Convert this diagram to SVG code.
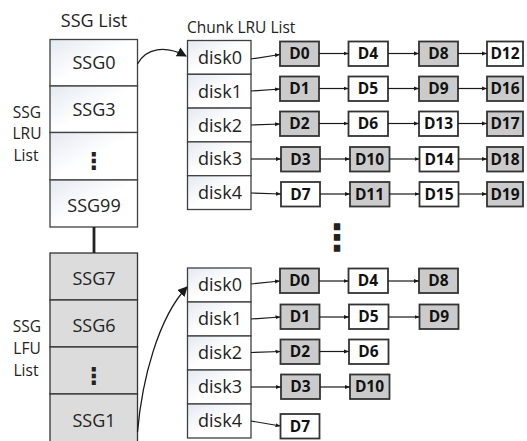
<svg xmlns="http://www.w3.org/2000/svg" width="527" height="441" viewBox="0 0 527 441">
<defs>
<linearGradient id="cellg" x1="0" y1="0" x2="1" y2="1">
<stop offset="0" stop-color="#e4e9f1"/>
<stop offset="0.5" stop-color="#ffffff"/>
<stop offset="1" stop-color="#ffffff"/>
</linearGradient>
<marker id="ah" viewBox="0 0 10 10" refX="10" refY="5" markerWidth="5" markerHeight="5" orient="auto" markerUnits="userSpaceOnUse">
<path d="M0,1 L10,5 L0,9 z" fill="#1a1a1a"/>
</marker>
<marker id="big" viewBox="0 0 10 10" refX="9" refY="5" markerWidth="10" markerHeight="10" orient="auto" markerUnits="userSpaceOnUse">
<path d="M0,0 L10,5 L0,10 z" fill="#1a1a1a"/>
</marker>
<style>
text{font-family:"Open Sans","Liberation Sans",sans-serif;fill:#222;}
.t{font-size:18px;text-anchor:middle;}
.lbl{font-size:15.5px;text-anchor:middle;}
.ssg{font-size:18px;text-anchor:middle;}
.dk{font-size:18px;text-anchor:middle;}
.dd{font-size:15.5px;font-weight:bold;text-anchor:middle;fill:#111;}
.dots{font-family:"DejaVu Sans",sans-serif;font-weight:bold;text-anchor:middle;fill:#222;}
.lru{fill:url(#cellg);stroke:#404040;stroke-width:1.3;}
.lfu{fill:#dcdcdc;stroke:#333;stroke-width:1.3;}
.dc{fill:url(#cellg);stroke:#404040;stroke-width:1.3;}
.w{fill:#ffffff;stroke:#333;stroke-width:1.8;}
.g{fill:#cbcbcb;stroke:#333;stroke-width:1.8;}
.a{fill:none;stroke:#1a1a1a;stroke-width:1.2;marker-end:url(#ah);}
.c{fill:none;stroke:#1a1a1a;stroke-width:1.3;marker-end:url(#big);}
</style>
</defs>

<g id="titles">
<text class="t" x="94" y="26.5">SSG List</text>
<text x="187" y="33" style="font-size:15.5px">Chunk LRU List</text>
</g>

<g id="lru-label">
<text class="lbl" x="27" y="118">SSG</text>
<text class="lbl" x="27" y="139">LRU</text>
<text class="lbl" x="26" y="161">List</text>
</g>
<g id="lfu-label">
<text class="lbl" x="27" y="332">SSG</text>
<text class="lbl" x="27" y="354">LFU</text>
<text class="lbl" x="26" y="376">List</text>
</g>

<g id="ssg-lru-list">
<g id="ssg0"><rect class="lru" x="50" y="39.5" width="87.5" height="46.5"/><text class="ssg" x="94" y="69">SSG0</text></g>
<g id="ssg3"><rect class="lru" x="50" y="86" width="87.5" height="46.5"/><text class="ssg" x="94" y="116">SSG3</text></g>
<g id="ssg-lru-more"><rect class="lru" x="50" y="132.5" width="87.5" height="47.5"/><text class="dots" x="94" y="169" style="font-size:23px">⋮</text></g>
<g id="ssg99"><rect class="lru" x="50" y="180" width="87.5" height="47"/><text class="ssg" x="94" y="212">SSG99</text></g>
</g>

<g id="ssg-lfu-list">
<g id="ssg7"><rect class="lfu" x="50" y="253" width="87.5" height="47"/><text class="ssg" x="94" y="285">SSG7</text></g>
<g id="ssg6"><rect class="lfu" x="50" y="300" width="87.5" height="47"/><text class="ssg" x="94" y="332">SSG6</text></g>
<g id="ssg-lfu-more"><rect class="lfu" x="50" y="347" width="87.5" height="47"/><text class="dots" x="94" y="384" style="font-size:23px">⋮</text></g>
<g id="ssg1"><rect class="lfu" x="50" y="394" width="87.5" height="50"/><text class="ssg" x="94" y="427">SSG1</text></g>
</g>

<g id="disks-top">
<g id="t-disk0"><rect class="dc" x="187.5" y="40.5" width="63.5" height="33.8"/><text class="dk" x="220" y="63.5">disk0</text></g>
<g id="t-disk1"><rect class="dc" x="187.5" y="74.3" width="63.5" height="33.8"/><text class="dk" x="220" y="97.5">disk1</text></g>
<g id="t-disk2"><rect class="dc" x="187.5" y="108.1" width="63.5" height="33.8"/><text class="dk" x="220" y="131.5">disk2</text></g>
<g id="t-disk3"><rect class="dc" x="187.5" y="141.9" width="63.5" height="33.8"/><text class="dk" x="220" y="165">disk3</text></g>
<g id="t-disk4"><rect class="dc" x="187.5" y="175.7" width="63.5" height="33.8"/><text class="dk" x="220" y="199">disk4</text></g>
</g>

<g id="chunks-top">
<g id="t-D0"><rect class="g" x="280" y="41.5" width="39" height="24.5"/><text class="dd" x="299.5" y="59">D0</text></g>
<g id="t-D4"><rect class="w" x="348.5" y="41.5" width="39.5" height="24.5"/><text class="dd" x="368" y="59">D4</text></g>
<g id="t-D8"><rect class="g" x="419" y="41.5" width="39" height="24.5"/><text class="dd" x="438.5" y="59">D8</text></g>
<g id="t-D12"><rect class="w" x="487" y="41.5" width="36" height="24.5"/><text class="dd" x="505" y="59">D12</text></g>

<g id="t-D1"><rect class="g" x="280" y="76.5" width="39" height="24.5"/><text class="dd" x="299.5" y="94">D1</text></g>
<g id="t-D5"><rect class="w" x="348.5" y="76.5" width="39.5" height="24.5"/><text class="dd" x="368" y="94">D5</text></g>
<g id="t-D9"><rect class="g" x="419" y="76.5" width="39" height="24.5"/><text class="dd" x="438.5" y="94">D9</text></g>
<g id="t-D16"><rect class="g" x="487" y="76.5" width="36" height="24.5"/><text class="dd" x="505" y="94">D16</text></g>

<g id="t-D2"><rect class="g" x="280" y="111.5" width="39" height="24.5"/><text class="dd" x="299.5" y="129">D2</text></g>
<g id="t-D6"><rect class="w" x="348.5" y="111.5" width="39.5" height="24.5"/><text class="dd" x="368" y="129">D6</text></g>
<g id="t-D13"><rect class="w" x="419" y="111.5" width="39" height="24.5"/><text class="dd" x="438.5" y="129">D13</text></g>
<g id="t-D17"><rect class="g" x="487" y="111.5" width="36" height="24.5"/><text class="dd" x="505" y="129">D17</text></g>

<g id="t-D3"><rect class="g" x="281" y="147" width="39" height="24.5"/><text class="dd" x="300.5" y="164.5">D3</text></g>
<g id="t-D10"><rect class="g" x="350" y="147" width="39.5" height="24.5"/><text class="dd" x="369.5" y="164.5">D10</text></g>
<g id="t-D14"><rect class="w" x="419.5" y="147" width="39" height="24.5"/><text class="dd" x="439" y="164.5">D14</text></g>
<g id="t-D18"><rect class="g" x="487" y="147" width="36" height="24.5"/><text class="dd" x="505" y="164.5">D18</text></g>

<g id="t-D7"><rect class="w" x="281" y="182" width="39" height="24.5"/><text class="dd" x="300.5" y="199.5">D7</text></g>
<g id="t-D11"><rect class="g" x="350" y="182" width="39.5" height="24.5"/><text class="dd" x="369.5" y="199.5">D11</text></g>
<g id="t-D15"><rect class="w" x="419.5" y="182" width="39" height="24.5"/><text class="dd" x="439" y="199.5">D15</text></g>
<g id="t-D19"><rect class="g" x="487" y="182" width="36" height="24.5"/><text class="dd" x="505" y="199.5">D19</text></g>
</g>

<g id="more-rows"><text class="dots" x="337" y="250" style="font-size:36px">⋮</text></g>

<g id="disks-bottom">
<g id="b-disk0"><rect class="dc" x="187.5" y="268" width="63.5" height="34"/><text class="dk" x="220" y="291">disk0</text></g>
<g id="b-disk1"><rect class="dc" x="187.5" y="302" width="63.5" height="34"/><text class="dk" x="220" y="325">disk1</text></g>
<g id="b-disk2"><rect class="dc" x="187.5" y="336" width="63.5" height="34"/><text class="dk" x="220" y="359">disk2</text></g>
<g id="b-disk3"><rect class="dc" x="187.5" y="370" width="63.5" height="34"/><text class="dk" x="220" y="393">disk3</text></g>
<g id="b-disk4"><rect class="dc" x="187.5" y="404" width="63.5" height="34"/><text class="dk" x="220" y="427">disk4</text></g>
</g>

<g id="chunks-bottom">
<g id="b-D0"><rect class="g" x="280" y="268.5" width="39" height="24.5"/><text class="dd" x="299.5" y="286">D0</text></g>
<g id="b-D4"><rect class="w" x="348.5" y="268.5" width="39.5" height="24.5"/><text class="dd" x="368" y="286">D4</text></g>
<g id="b-D8"><rect class="g" x="419" y="268.5" width="39" height="24.5"/><text class="dd" x="438.5" y="286">D8</text></g>

<g id="b-D1"><rect class="g" x="280.5" y="304.5" width="39" height="24.5"/><text class="dd" x="300" y="322">D1</text></g>
<g id="b-D5"><rect class="w" x="349" y="304.5" width="39.5" height="24.5"/><text class="dd" x="368.5" y="322">D5</text></g>
<g id="b-D9"><rect class="g" x="419.5" y="304.5" width="39" height="24.5"/><text class="dd" x="439" y="322">D9</text></g>

<g id="b-D2"><rect class="g" x="280.5" y="339.5" width="39" height="24.5"/><text class="dd" x="300" y="357">D2</text></g>
<g id="b-D6"><rect class="w" x="349" y="339.5" width="39.5" height="24.5"/><text class="dd" x="368.5" y="357">D6</text></g>

<g id="b-D3"><rect class="g" x="281" y="374.5" width="39" height="24.5"/><text class="dd" x="300.5" y="392">D3</text></g>
<g id="b-D10"><rect class="g" x="350" y="374.5" width="39.5" height="24.5"/><text class="dd" x="369.5" y="392">D10</text></g>

<g id="b-D7"><rect class="w" x="280.5" y="414" width="39" height="24.5"/><text class="dd" x="300" y="431.5">D7</text></g>
</g>

<g id="connectors">
<line x1="94" y1="227" x2="94" y2="253" stroke="#222" stroke-width="2.8"/>
<path class="c" d="M137.5,64 C146,48 165,45 186,56"/>
<path class="c" d="M137.5,432 C142,380 158,318 187,287"/>

<path class="a" d="M251,59 L280,54.5"/>
<path class="a" d="M319,53.5 L348.5,53.5"/>
<path class="a" d="M388,53.5 L419,53.5"/>
<path class="a" d="M458,53.5 L487,53.5"/>

<path class="a" d="M251,91 L280,89"/>
<path class="a" d="M319,88.5 L348.5,88.5"/>
<path class="a" d="M388,88.5 L419,88.5"/>
<path class="a" d="M458,88.5 L487,88.5"/>

<path class="a" d="M251,125 L280,124"/>
<path class="a" d="M319,123.5 L348.5,123.5"/>
<path class="a" d="M388,123.5 L419,123.5"/>
<path class="a" d="M458,123.5 L487,123.5"/>

<path class="a" d="M251,159 L281,159"/>
<path class="a" d="M320,159 L350,159"/>
<path class="a" d="M389.5,159 L419.5,159"/>
<path class="a" d="M458.5,159 L487,159"/>

<path class="a" d="M251,193 L281,194"/>
<path class="a" d="M320,194 L350,194"/>
<path class="a" d="M389.5,194 L419.5,194"/>
<path class="a" d="M458.5,194 L487,194"/>

<path class="a" d="M251,284 L280,281"/>
<path class="a" d="M319,281 L348.5,281"/>
<path class="a" d="M388,281 L419,281"/>

<path class="a" d="M251,319 L280.5,317"/>
<path class="a" d="M319.5,317 L349,317"/>
<path class="a" d="M388.5,317 L419.5,317"/>

<path class="a" d="M251,352.5 L280.5,351.5"/>
<path class="a" d="M319.5,351.5 L349,351.5"/>

<path class="a" d="M251,387 L281,387"/>
<path class="a" d="M320,387 L350,387"/>

<path class="a" d="M251,421 L280.5,426"/>
</g>
</svg>
